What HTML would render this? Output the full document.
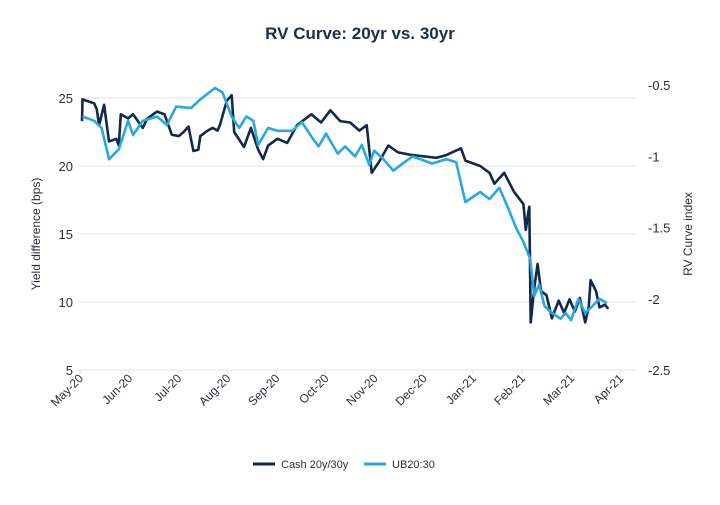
<!DOCTYPE html>
<html><head><meta charset="utf-8"><style>
body{margin:0;background:#fff;font-family:"Liberation Sans",sans-serif}
svg text{font-family:"Liberation Sans",sans-serif;fill:#2b2f3a}
</style></head><body>
<svg id="chart" width="720" height="500" viewBox="0 0 720 500">
<text x="360" y="39" text-anchor="middle" font-size="17" font-weight="bold" style="fill:#1d2c4c">RV Curve:  20yr vs. 30yr</text>
<g id="grid"></g><g id="axes"></g><g id="series"></g>
<text transform="translate(40,234) rotate(-90)" text-anchor="middle" font-size="12">Yield difference (bps)</text>
<text transform="translate(692,234) rotate(-90)" text-anchor="middle" font-size="12">RV Curve index</text>
<g>
<line x1="253" y1="464" x2="275" y2="464" stroke="#13294b" stroke-width="3"/>
<text x="281" y="468" font-size="11">Cash 20y/30y</text>
<line x1="364" y1="464" x2="386" y2="464" stroke="#29a8e0" stroke-width="3"/>
<text x="392" y="468" font-size="11">UB20:30</text>
</g>
</svg>
<script>
const months=["May-20","Jun-20","Jul-20","Aug-20","Sep-20","Oct-20","Nov-20","Dec-20","Jan-21","Feb-21","Mar-21","Apr-21"];
const leftTicks=[5,10,15,20,25];
const rightTicks=[-2.5,-2,-1.5,-1,-0.5];
const cashT=[0.04,0.05,0.29,0.34,0.39,0.49,0.59,0.74,0.79,0.83,0.98,1.08,1.28,1.37,1.57,1.72,1.87,2.01,2.11,2.21,2.31,2.41,2.45,2.60,2.70,2.80,2.85,2.99,3.09,3.14,3.34,3.48,3.63,3.73,3.83,4.02,4.22,4.42,4.71,4.91,5.10,5.30,5.50,5.69,5.84,5.94,6.09,6.28,6.48,6.77,7.26,7.46,7.76,7.85,8.15,8.34,8.44,8.64,8.84,9.03,9.08,9.13,9.15,9.18,9.25,9.32,9.39,9.50,9.61,9.75,9.86,9.97,10.08,10.18,10.29,10.36,10.40,10.51,10.58,10.69,10.76];
const cashV=[23.3,24.9,24.6,24.2,23.0,24.5,21.8,22.0,21.5,23.8,23.5,23.8,22.8,23.5,24.0,23.8,22.3,22.2,22.5,22.9,21.1,21.2,22.2,22.6,22.8,22.6,23.0,24.8,25.2,22.5,21.4,22.8,21.2,20.5,21.5,22.0,21.7,23.0,23.8,23.2,24.1,23.3,23.2,22.6,23.0,19.5,20.3,21.5,21.0,20.8,20.6,20.8,21.3,20.4,20.0,19.5,18.7,19.5,18.1,17.2,15.3,16.6,17.0,8.5,11.0,12.8,10.8,10.5,8.8,10.1,9.2,10.2,9.3,10.3,8.5,9.6,11.6,10.8,9.6,9.8,9.5];
const ubT=[0.05,0.29,0.44,0.59,0.79,0.98,1.08,1.28,1.57,1.77,1.96,2.26,2.45,2.75,2.90,3.09,3.24,3.39,3.53,3.63,3.83,4.02,4.32,4.52,4.71,4.86,5.01,5.25,5.40,5.60,5.74,5.89,5.99,6.18,6.38,6.77,7.17,7.46,7.66,7.85,8.15,8.34,8.54,8.74,8.88,9.03,9.17,9.25,9.35,9.46,9.61,9.79,9.89,10.00,10.15,10.29,10.44,10.58,10.73];
const ubV=[-0.72,-0.75,-0.8,-1.02,-0.95,-0.75,-0.85,-0.75,-0.72,-0.78,-0.65,-0.66,-0.6,-0.52,-0.55,-0.72,-0.8,-0.72,-0.75,-0.92,-0.8,-0.82,-0.82,-0.76,-0.86,-0.93,-0.84,-0.98,-0.93,-1.0,-0.92,-1.06,-0.96,-1.02,-1.1,-1.0,-1.05,-1.02,-1.04,-1.32,-1.25,-1.3,-1.22,-1.38,-1.5,-1.6,-1.72,-1.98,-1.9,-2.05,-2.1,-2.14,-2.1,-2.15,-2.0,-2.1,-2.05,-2.0,-2.03];
const NS="http://www.w3.org/2000/svg";
const X=m=>80+m*49.1;
const YL=v=>370-(v-5)*13.6;
const YR=v=>370-(v+2.5)*142.4;
function mk(tag,attrs,parent){const e=document.createElementNS(NS,tag);for(const k in attrs)e.setAttribute(k,attrs[k]);parent.appendChild(e);return e;}
const grid=document.getElementById('grid'),axes=document.getElementById('axes'),ser=document.getElementById('series');
leftTicks.forEach(v=>{
 const l=mk('line',{x1:78,x2:636,y1:YL(v),y2:YL(v),stroke:'#e3e3e3','stroke-width':1},grid);
 
 
 const t=mk('text',{x:73,y:YL(v)+5,'text-anchor':'end','font-size':13},axes);
 t.textContent=v;
 
 
});
rightTicks.forEach(v=>{
 const t=mk('text',{x:648,y:YR(v)+5,'font-size':13},axes);
 t.textContent=v;
 
 
});
const base=mk('line',{x1:78,x2:636,y1:370,y2:370,stroke:'#e0e0e0'},axes);


months.forEach((m,i)=>{
 const x=X(i);
 const tk=mk('line',{x1:x,x2:x,y1:370,y2:374,stroke:'#e0e0e0'},axes);
 
 
 const t=mk('text',{transform:`translate(${x+4},${379}) rotate(-45)`,'text-anchor':'end','font-size':12},axes);
 t.textContent=m;
 
 
});
const p1=mk('path',{d:cashT.map((t,i)=>(i?'L':'M')+X(t).toFixed(1)+','+YL(cashV[i]).toFixed(1)).join(''),fill:'none',stroke:'#13294b','stroke-width':2.6,'stroke-linejoin':'round'},ser);


const p2=mk('path',{d:ubT.map((t,i)=>(i?'L':'M')+X(t).toFixed(1)+','+YR(ubV[i]).toFixed(1)).join(''),fill:'none',stroke:'#29a8e0','stroke-width':2.6,'stroke-linejoin':'round'},ser);


</script>
</body></html>
